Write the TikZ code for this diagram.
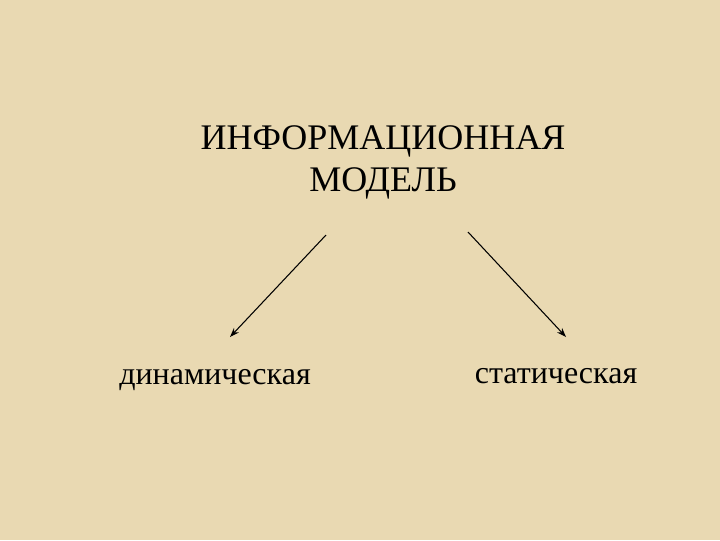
\documentclass[tikz,border=0pt]{standalone}
\usepackage{fontspec}
\setmainfont{Liberation Serif}
\usetikzlibrary{arrows.meta}
\definecolor{parch}{HTML}{E9D9B2}
\begin{document}
\begin{tikzpicture}[x=0.75pt,y=-0.75pt,
  lbl/.style={font=\fontsize{24}{28}\selectfont, inner sep=0pt},
  arr/.style={-{Stealth[length=7pt,width=5pt]}, line width=0.8pt}]
\fill[parch] (0,0) rectangle (720,540);
\useasboundingbox (0,0) rectangle (720,540);
\node[lbl, align=center, font=\fontsize{27}{31.5}\selectfont] (title) at (383,162) {ИНФОРМАЦИОННАЯ\\МОДЕЛЬ};
\node[lbl] (dyn) at (215,380) {динамическая};
\node[lbl] (stat) at (556,376) {статическая};
\coordinate (l1) at (326,235);
\coordinate (l2) at (230,337);
\coordinate (r1) at (468,232);
\coordinate (r2) at (566,337);
\draw[arr] (l1) -- (l2);
\draw[arr] (r1) -- (r2);
\end{tikzpicture}
\end{document}
